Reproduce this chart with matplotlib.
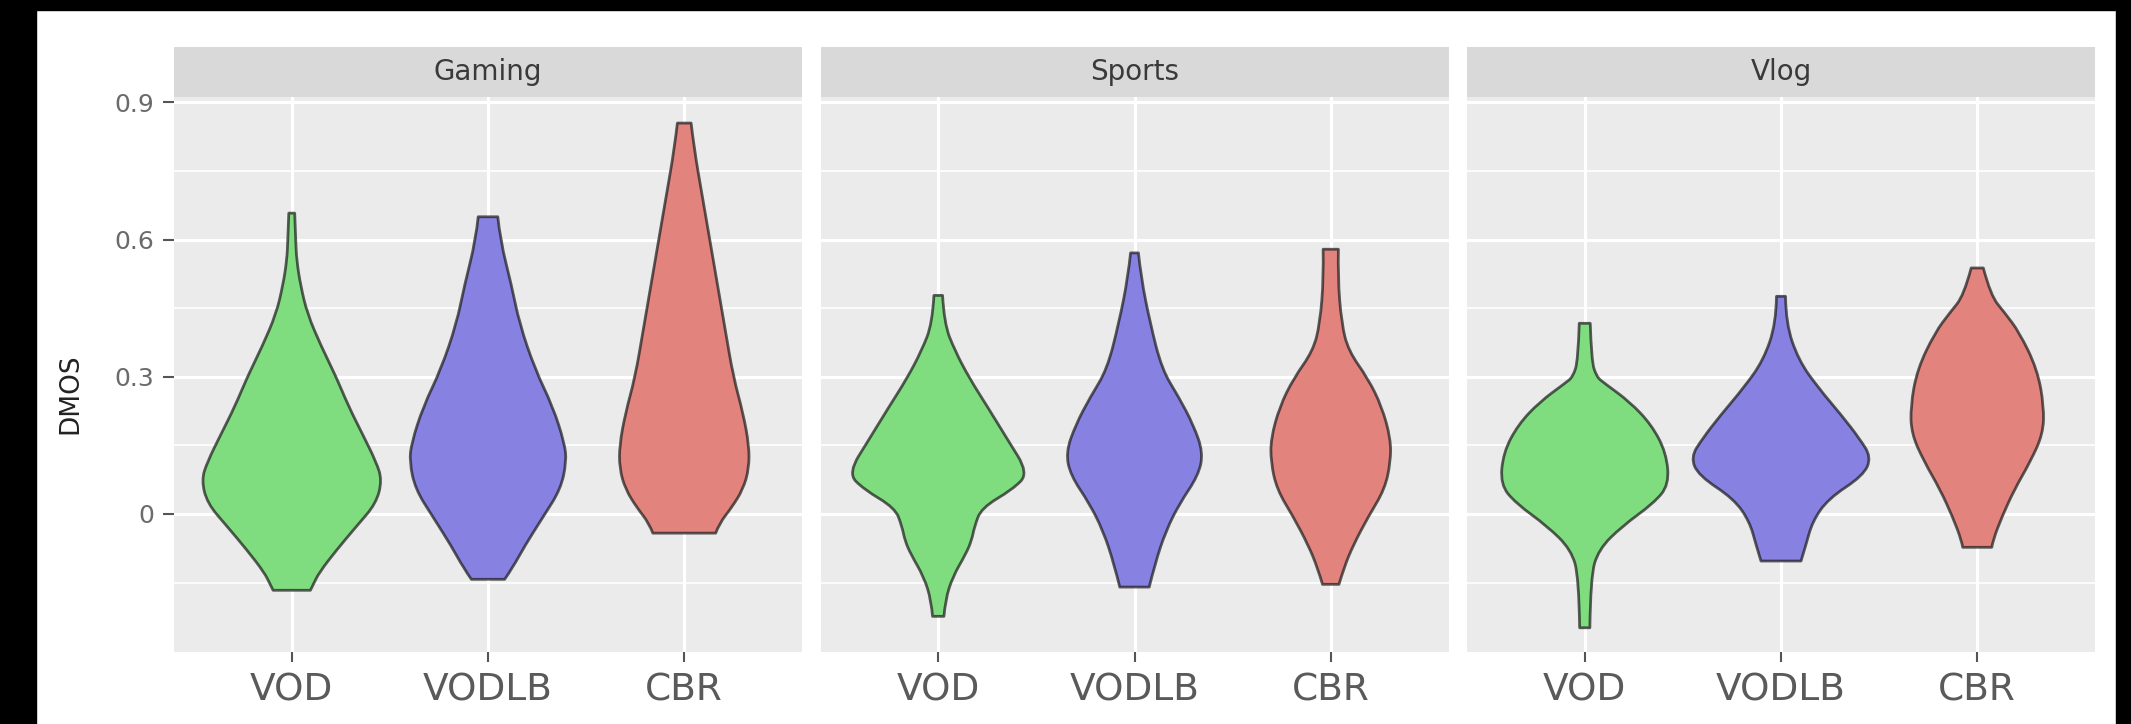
import matplotlib
matplotlib.use("Agg")
import matplotlib.pyplot as plt
from matplotlib.patches import Rectangle, PathPatch
from matplotlib.path import Path
import numpy as np

W, H = 2131, 724

genres = ["Gaming", "Sports", "Vlog"]
methods = ["VOD", "VODLB", "CBR"]
fills = ["#7FDD7F", "#8781E2", "#E2837D"]

# violin outlines: DMOS level and half width (in category units) along each shape
gaming_vod_y = [0.658, 0.60, 0.555, 0.50, 0.437, 0.367, 0.301, 0.235, 0.175, 0.114, 0.074, 0.023, -0.027, -0.078, -0.128, -0.154, -0.167]
gaming_vod_w = [0.015, 0.02, 0.025, 0.045, 0.08, 0.15, 0.225, 0.29, 0.36, 0.43, 0.46, 0.43, 0.33, 0.23, 0.14, 0.11, 0.095]
gaming_vodlb_y = [0.65, 0.60, 0.50, 0.417, 0.316, 0.235, 0.155, 0.114, 0.054, -0.007, -0.068, -0.118, -0.143]
gaming_vodlb_w = [0.05, 0.062, 0.12, 0.16, 0.24, 0.33, 0.39, 0.40, 0.37, 0.28, 0.19, 0.125, 0.085]
gaming_cbr_y = [0.855, 0.80, 0.70, 0.60, 0.50, 0.40, 0.30, 0.22, 0.15, 0.10, 0.054, 0.013, -0.02, -0.042]
gaming_cbr_w = [0.035, 0.05, 0.09, 0.13, 0.17, 0.21, 0.25, 0.30, 0.33, 0.33, 0.30, 0.24, 0.18, 0.16]

sports_vod_y = [0.478, 0.417, 0.357, 0.296, 0.235, 0.165, 0.089, 0.054, 0.013, -0.027, -0.058, -0.088, -0.138, -0.189, -0.224]
sports_vod_w = [0.022, 0.03, 0.085, 0.16, 0.25, 0.35, 0.46, 0.38, 0.22, 0.185, 0.17, 0.14, 0.073, 0.036, 0.029]
sports_vodlb_y = [0.571, 0.518, 0.417, 0.316, 0.256, 0.195, 0.134, 0.084, 0.023, -0.037, -0.108, -0.16]
sports_vodlb_w = [0.02, 0.033, 0.08, 0.14, 0.225, 0.30, 0.35, 0.325, 0.23, 0.16, 0.105, 0.075]
sports_cbr_y = [0.579, 0.518, 0.417, 0.357, 0.296, 0.235, 0.165, 0.114, 0.054, -0.007, -0.068, -0.118, -0.154]
sports_cbr_w = [0.039, 0.036, 0.055, 0.09, 0.19, 0.26, 0.305, 0.305, 0.275, 0.19, 0.115, 0.067, 0.042]

vlog_vod_y = [0.417, 0.336, 0.30, 0.286, 0.245, 0.195, 0.134, 0.064, 0.023, -0.027, -0.078, -0.138, -0.249]
vlog_vod_w = [0.028, 0.034, 0.06, 0.10, 0.23, 0.34, 0.415, 0.43, 0.35, 0.19, 0.07, 0.03, 0.026]
vlog_vodlb_y = [0.476, 0.417, 0.336, 0.276, 0.215, 0.165, 0.124, 0.084, 0.033, -0.017, -0.068, -0.103]
vlog_vodlb_w = [0.023, 0.025, 0.09, 0.19, 0.31, 0.40, 0.46, 0.42, 0.24, 0.16, 0.127, 0.102]
vlog_cbr_y = [0.538, 0.478, 0.44, 0.397, 0.316, 0.235, 0.175, 0.114, 0.054, -0.007, -0.058, -0.073]
vlog_cbr_w = [0.031, 0.068, 0.14, 0.215, 0.306, 0.34, 0.335, 0.27, 0.19, 0.125, 0.08, 0.074]

shapes = {
    "Gaming": [(gaming_vod_y, gaming_vod_w), (gaming_vodlb_y, gaming_vodlb_w), (gaming_cbr_y, gaming_cbr_w)],
    "Sports": [(sports_vod_y, sports_vod_w), (sports_vodlb_y, sports_vodlb_w), (sports_cbr_y, sports_cbr_w)],
    "Vlog": [(vlog_vod_y, vlog_vod_w), (vlog_vodlb_y, vlog_vodlb_w), (vlog_cbr_y, vlog_cbr_w)],
}

y_major = [0, 0.3, 0.6, 0.9]
y_minor = [-0.15, 0.15, 0.45, 0.75]
y_labels = ["0", "0.3", "0.6", "0.9"]


def smooth_side(pts):
    # quadratic bezier chain using the knots as control points
    verts, codes = [], []
    n = len(pts)
    for k in range(1, n - 1):
        end = pts[k + 1] if k == n - 2 else (pts[k] + pts[k + 1]) / 2
        verts += [pts[k], end]
        codes += [Path.CURVE3, Path.CURVE3]
    if n == 2:
        verts.append(pts[1])
        codes.append(Path.LINETO)
    return verts, codes


def violin_path(pos, ys, ws):
    ys = np.array(ys)
    ws = np.array(ws)
    right = [np.array([pos + w, y]) for y, w in zip(ys, ws)]
    left = [np.array([pos - w, y]) for y, w in zip(ys, ws)][::-1]
    verts = [left[-1], right[0]]
    codes = [Path.MOVETO, Path.LINETO]
    v, c = smooth_side(right)
    verts += v
    codes += c
    verts.append(left[0])
    codes.append(Path.LINETO)
    v, c = smooth_side(left)
    verts += v
    codes += c
    verts.append(left[-1])
    codes.append(Path.CLOSEPOLY)
    return Path(verts, codes)


fig = plt.figure(figsize=(W / 100, H / 100), dpi=100)
fig.patch.set_facecolor("white")

panel_w = 628
panel_bottom = H - 652
panel_h = 555
strip_h = 50

for i, genre in enumerate(genres):
    left = 174 + i * 646.5
    ax = fig.add_axes([left / W, panel_bottom / H, panel_w / W, panel_h / H])
    ax.set_facecolor("#EBEBEB")
    ax.set_xlim(0.4, 3.6)
    ax.set_ylim(-0.302, 0.912)
    for s in ax.spines.values():
        s.set_visible(False)
    ax.set_axisbelow(True)

    ax.set_yticks(y_major)
    ax.set_yticks(y_minor, minor=True)
    ax.grid(which="major", color="white", lw=2.3)
    ax.grid(which="minor", axis="y", color="white", lw=1.2)
    ax.tick_params(which="minor", length=0)

    ax.set_xticks([1, 2, 3])
    ax.set_xticklabels(methods, fontsize=27, color="#5a5a5a")
    ax.tick_params(axis="x", length=7, width=1.5, color="#555555", pad=8)
    if i == 0:
        ax.set_yticklabels(y_labels, fontsize=18, color="#6b6b6b")
        ax.tick_params(axis="y", length=8, width=1.5, color="#555555", pad=6)
    else:
        ax.tick_params(axis="y", length=0, labelleft=False)

    for j, (ys, ws) in enumerate(shapes[genre]):
        patch = PathPatch(violin_path(j + 1, ys, ws), facecolor=fills[j],
                          edgecolor=(0.1, 0.1, 0.1, 0.7), lw=2.0,
                          joinstyle="round", zorder=3)
        ax.add_patch(patch)

    # facet strip on top of each panel
    sax = fig.add_axes([left / W, (panel_bottom + panel_h) / H, panel_w / W, strip_h / H])
    sax.set_facecolor("#D9D9D9")
    sax.set_xticks([])
    sax.set_yticks([])
    for s in sax.spines.values():
        s.set_visible(False)
    sax.text(0.5, 0.5, genre, ha="center", va="center", fontsize=20,
             color="#3a3a3a", transform=sax.transAxes)

fig.text(70 / W, 1 - 394 / H, "DMOS", rotation=90, ha="center", va="center",
         fontsize=19, color="#222222")

# dark frame on top, left and right edges
fig.patches.append(Rectangle((0, 1 - 10 / H), 1, 10 / H, transform=fig.transFigure,
                             color="black", zorder=10))
fig.patches.append(Rectangle((0, 0), 36 / W, 1, transform=fig.transFigure,
                             color="black", zorder=10))
fig.patches.append(Rectangle((1 - 15 / W, 0), 15 / W, 1, transform=fig.transFigure,
                             color="black", zorder=10))

fig.savefig("out.png", dpi=100)
